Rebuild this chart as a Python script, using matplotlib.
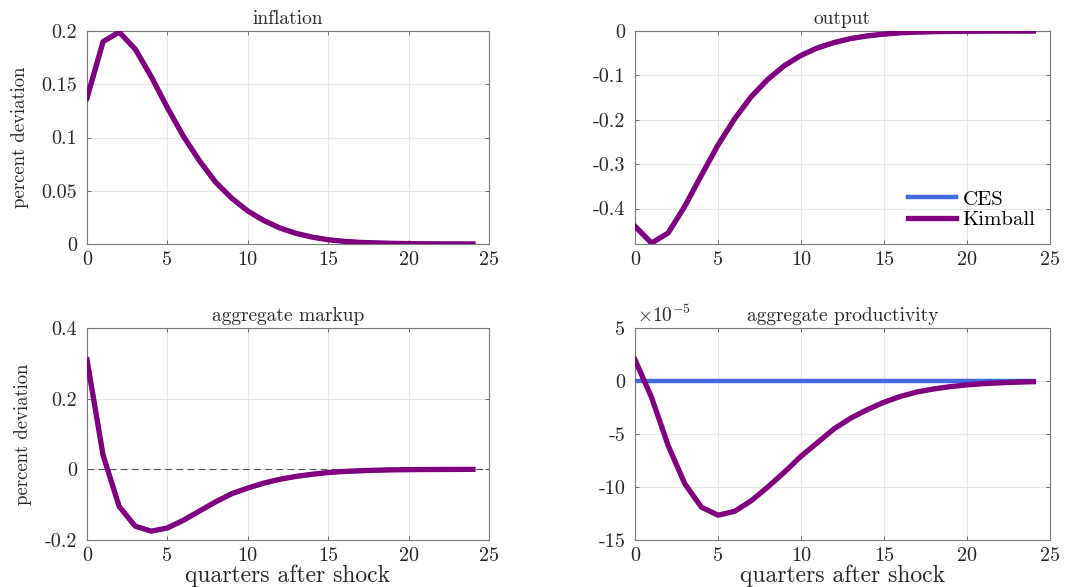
import numpy as np
import matplotlib
matplotlib.use("Agg")
import matplotlib.pyplot as plt
from matplotlib.ticker import FuncFormatter, MultipleLocator

plt.rcParams['font.family'] = 'serif'
plt.rcParams['font.serif'] = ['cmr10', 'DejaVu Serif']
plt.rcParams['mathtext.fontset'] = 'cm'
plt.rcParams['axes.unicode_minus'] = False
plt.rcParams['axes.formatter.use_mathtext'] = True

quarters = list(range(25))

inflation_kimball = [0.137, 0.190, 0.199, 0.183, 0.157, 0.128, 0.101, 0.078, 0.058, 0.043,
                     0.031, 0.022, 0.015, 0.010, 0.0065, 0.004, 0.0025, 0.0015, 0.001, 0.0006,
                     0.0004, 0.0002, 0.0001, 0.0001, 0.0]
inflation_ces = inflation_kimball

output_kimball = [-0.440, -0.478, -0.455, -0.395, -0.325, -0.257, -0.198, -0.148, -0.109, -0.078,
                  -0.055, -0.038, -0.026, -0.017, -0.011, -0.007, -0.004, -0.0025, -0.0015, -0.001,
                  -0.0006, -0.0004, -0.0002, -0.0001, 0.0]
output_ces = output_kimball

markup_kimball = [0.310, 0.040, -0.105, -0.161, -0.175, -0.166, -0.144, -0.118, -0.092, -0.069,
                  -0.053, -0.039, -0.028, -0.020, -0.014, -0.009, -0.006, -0.004, -0.0025, -0.0015,
                  -0.001, -0.0006, -0.0004, -0.0002, -0.0001]
markup_ces = markup_kimball

# aggregate productivity, in units of 1e-5
prod_kimball = [2.0, -1.56, -6.1, -9.7, -11.9, -12.66, -12.3, -11.3, -10.0, -8.6,
                -7.1, -5.8, -4.5, -3.5, -2.7, -2.0, -1.45, -1.03, -0.75, -0.53,
                -0.37, -0.25, -0.17, -0.11, -0.07]
prod_ces = [0.0] * 25

titles = ['inflation', 'output', 'aggregate markup', 'aggregate productivity']
ylims = [(0, 0.2), (-0.48, 0), (-0.2, 0.4), (-15, 5)]
yticks = [[0, 0.05, 0.1, 0.15, 0.2], [-0.4, -0.3, -0.2, -0.1, 0],
          [-0.2, 0, 0.2, 0.4], [-15, -10, -5, 0, 5]]
series = [(inflation_ces, inflation_kimball), (output_ces, output_kimball),
          (markup_ces, markup_kimball), (prod_ces, prod_kimball)]

blue = '#4169E1'
purple = '#800080'

W, H = 1065, 587
fig = plt.figure(figsize=(W / 100, H / 100), dpi=100)
boxes = [(87, 31, 489, 244), (635, 31, 1050, 244), (87, 328, 489, 540), (635, 328, 1050, 540)]

fmt = FuncFormatter(lambda v, p: ('%g' % v).replace('\u2212', '-'))

for i, (l, t, r, b) in enumerate(boxes):
    ax = fig.add_axes([l / W, 1 - b / H, (r - l) / W, (b - t) / H])
    ces, kim = series[i]
    if i == 2:
        ax.axhline(0, color='#555555', lw=0.8, ls=(0, (6, 4)), zorder=1)
    ax.plot(quarters, ces, color=blue, lw=3.2, label='CES', zorder=3)
    ax.plot(quarters, kim, color=purple, lw=3.8, label='Kimball', zorder=4)
    ax.set_xlim(0, 25)
    ax.set_ylim(*ylims[i])
    ax.set_yticks(yticks[i])
    ax.xaxis.set_major_locator(MultipleLocator(5))
    ax.yaxis.set_major_formatter(fmt)
    ax.xaxis.set_major_formatter(fmt)
    ax.grid(True, color='#e6e6e6', lw=0.8)
    ax.set_axisbelow(True)
    for s in ax.spines.values():
        s.set_color('#777777')
        s.set_linewidth(0.8)
    ax.tick_params(direction='in', length=3, width=0.6, color='#555555',
                   top=True, right=True, labelsize=14.5, labelcolor='#262626')
    ax.tick_params(axis='y', pad=7)
    ax.tick_params(axis='x', pad=5)
    ax.set_title(titles[i], fontsize=14, color='#262626', pad=5)
    if i in (0, 2):
        ax.set_ylabel('percent deviation', fontsize=13.5, color='#262626', labelpad=9)
    if i in (2, 3):
        ax.set_xlabel('quarters after shock', fontsize=17, color='#262626', labelpad=0)
    if i == 1:
        ax.legend(loc='lower right', frameon=False, fontsize=15, handlelength=2.3,
                  handletextpad=0.3, borderaxespad=0.3, labelspacing=0.1)
    if i == 3:
        ax.text(0.005, 1.01, r'$\times10^{-5}$', transform=ax.transAxes,
                fontsize=14, color='#262626', ha='left', va='bottom')

fig.savefig('out.png', dpi=100)
